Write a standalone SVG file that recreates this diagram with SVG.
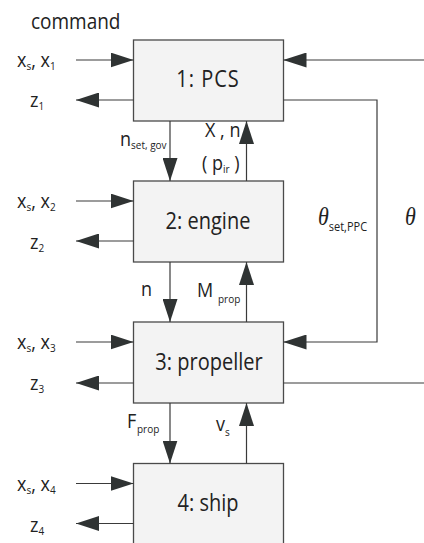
<svg xmlns="http://www.w3.org/2000/svg" width="424" height="543" viewBox="0 0 424 543">
<style>
.box{fill:#f3f3f3;stroke:#4a4a4a;stroke-width:1.3}
.ln{fill:none;stroke:#3a3a3a;stroke-width:1.2}
.t{font-family:"Open Sans","Liberation Sans",sans-serif;fill:#222}
.lbl{font-size:18px}
.sub{font-size:10px}
.big{font-size:20px}
.th{font-family:"Liberation Serif",serif;font-style:italic;font-size:22px;fill:#222}
</style>
<defs>
<marker id="ah" markerWidth="23" markerHeight="15" refX="23" refY="7.5" orient="auto" markerUnits="userSpaceOnUse">
<path d="M0,0 L23,7.5 L0,15 Z" fill="#2f3333"/>
</marker>
</defs>
<rect width="424" height="543" fill="#fff"/>
<text class="t" transform="translate(31,29) scale(1,1.17)" font-size="19">command</text>

<g id="node1">
<rect class="box" x="133.5" y="40" width="150" height="81"/>
<text class="t big" transform="translate(208,87) scale(1,1.15)" text-anchor="middle" letter-spacing="1">1: PCS</text>
</g>
<g id="node2">
<rect class="box" x="133.5" y="181" width="150" height="81"/>
<text class="t big" transform="translate(208,229) scale(1,1.15)" text-anchor="middle">2: engine</text>
</g>
<g id="node3">
<rect class="box" x="133.5" y="322" width="150" height="81"/>
<text class="t big" transform="translate(209,370) scale(1,1.15)" text-anchor="middle">3: propeller</text>
</g>
<g id="node4">
<rect class="box" x="133.5" y="463.5" width="150" height="90"/>
<text class="t big" transform="translate(208,511) scale(1,1.15)" text-anchor="middle">4: ship</text>
</g>

<g id="connectors">
<line class="ln" x1="76" y1="60" x2="133.5" y2="60" marker-end="url(#ah)"/>
<line class="ln" x1="133.5" y1="100" x2="76" y2="100" marker-end="url(#ah)"/>
<line class="ln" x1="76" y1="201" x2="133.5" y2="201" marker-end="url(#ah)"/>
<line class="ln" x1="133.5" y1="241" x2="76" y2="241" marker-end="url(#ah)"/>
<line class="ln" x1="76" y1="342" x2="133.5" y2="342" marker-end="url(#ah)"/>
<line class="ln" x1="133.5" y1="383" x2="76" y2="383" marker-end="url(#ah)"/>
<line class="ln" x1="76" y1="483.5" x2="133.5" y2="483.5" marker-end="url(#ah)"/>
<line class="ln" x1="133.5" y1="523.5" x2="76" y2="523.5" marker-end="url(#ah)"/>
<line class="ln" x1="424" y1="60" x2="283.5" y2="60" marker-end="url(#ah)"/>
<polyline class="ln" points="283.5,100 377,100 377,342 283.5,342" marker-end="url(#ah)"/>
<line class="ln" x1="283.5" y1="383" x2="424" y2="383"/>
<line class="ln" x1="170" y1="121" x2="170" y2="181" marker-end="url(#ah)"/>
<line class="ln" x1="246.5" y1="181" x2="246.5" y2="121" marker-end="url(#ah)"/>
<line class="ln" x1="170" y1="262" x2="170" y2="322" marker-end="url(#ah)"/>
<line class="ln" x1="246.5" y1="322" x2="246.5" y2="262" marker-end="url(#ah)"/>
<line class="ln" x1="170" y1="403" x2="170" y2="463.5" marker-end="url(#ah)"/>
<line class="ln" x1="246.5" y1="463.5" x2="246.5" y2="403" marker-end="url(#ah)"/>
</g>

<g id="labels">
<text class="t lbl" transform="translate(17,67) scale(1,1.15)">x<tspan class="sub" dy="3">s</tspan><tspan dy="-3">, x</tspan><tspan class="sub" dy="3">1</tspan></text>
<text class="t lbl" transform="translate(30,107) scale(1,1.15)">z<tspan class="sub" dy="3">1</tspan></text>
<text class="t lbl" transform="translate(17,208) scale(1,1.15)">x<tspan class="sub" dy="3">s</tspan><tspan dy="-3">, x</tspan><tspan class="sub" dy="3">2</tspan></text>
<text class="t lbl" transform="translate(30,249) scale(1,1.15)">z<tspan class="sub" dy="3">2</tspan></text>
<text class="t lbl" transform="translate(17,349) scale(1,1.15)">x<tspan class="sub" dy="3">s</tspan><tspan dy="-3">, x</tspan><tspan class="sub" dy="3">3</tspan></text>
<text class="t lbl" transform="translate(30,390) scale(1,1.15)">z<tspan class="sub" dy="3">3</tspan></text>
<text class="t lbl" transform="translate(17,491) scale(1,1.15)">x<tspan class="sub" dy="3">s</tspan><tspan dy="-3">, x</tspan><tspan class="sub" dy="3">4</tspan></text>
<text class="t lbl" transform="translate(30,532) scale(1,1.15)">z<tspan class="sub" dy="3">4</tspan></text>

<text class="t lbl" transform="translate(120,146) scale(1,1.15)">n<tspan class="sub" dy="2.5">set, gov</tspan></text>
<text class="t lbl" transform="translate(205,137) scale(1,1.15)">X , n</text>
<text class="t lbl" transform="translate(202,170) scale(1,1.15)">( p<tspan class="sub" dy="3">ir</tspan><tspan dy="-3"> )</tspan></text>
<text class="th" transform="translate(318,225) scale(1,1.1)">θ<tspan class="t" font-style="normal" font-size="11" dy="5">set,PPC</tspan></text>
<text class="th" transform="translate(405,225) scale(1,1.1)">θ</text>
<text class="t lbl" transform="translate(141,296) scale(1,1.15)">n</text>
<text class="t lbl" transform="translate(197,297) scale(1,1.15)">M<tspan class="sub" x="21" dy="5">prop</tspan></text>
<text class="t lbl" transform="translate(127,428) scale(1,1.15)">F<tspan class="sub" x="10" dy="4">prop</tspan></text>
<text class="t lbl" transform="translate(216,431) scale(1,1.15)">v<tspan class="sub" dy="4.5">s</tspan></text>
</g>
</svg>
